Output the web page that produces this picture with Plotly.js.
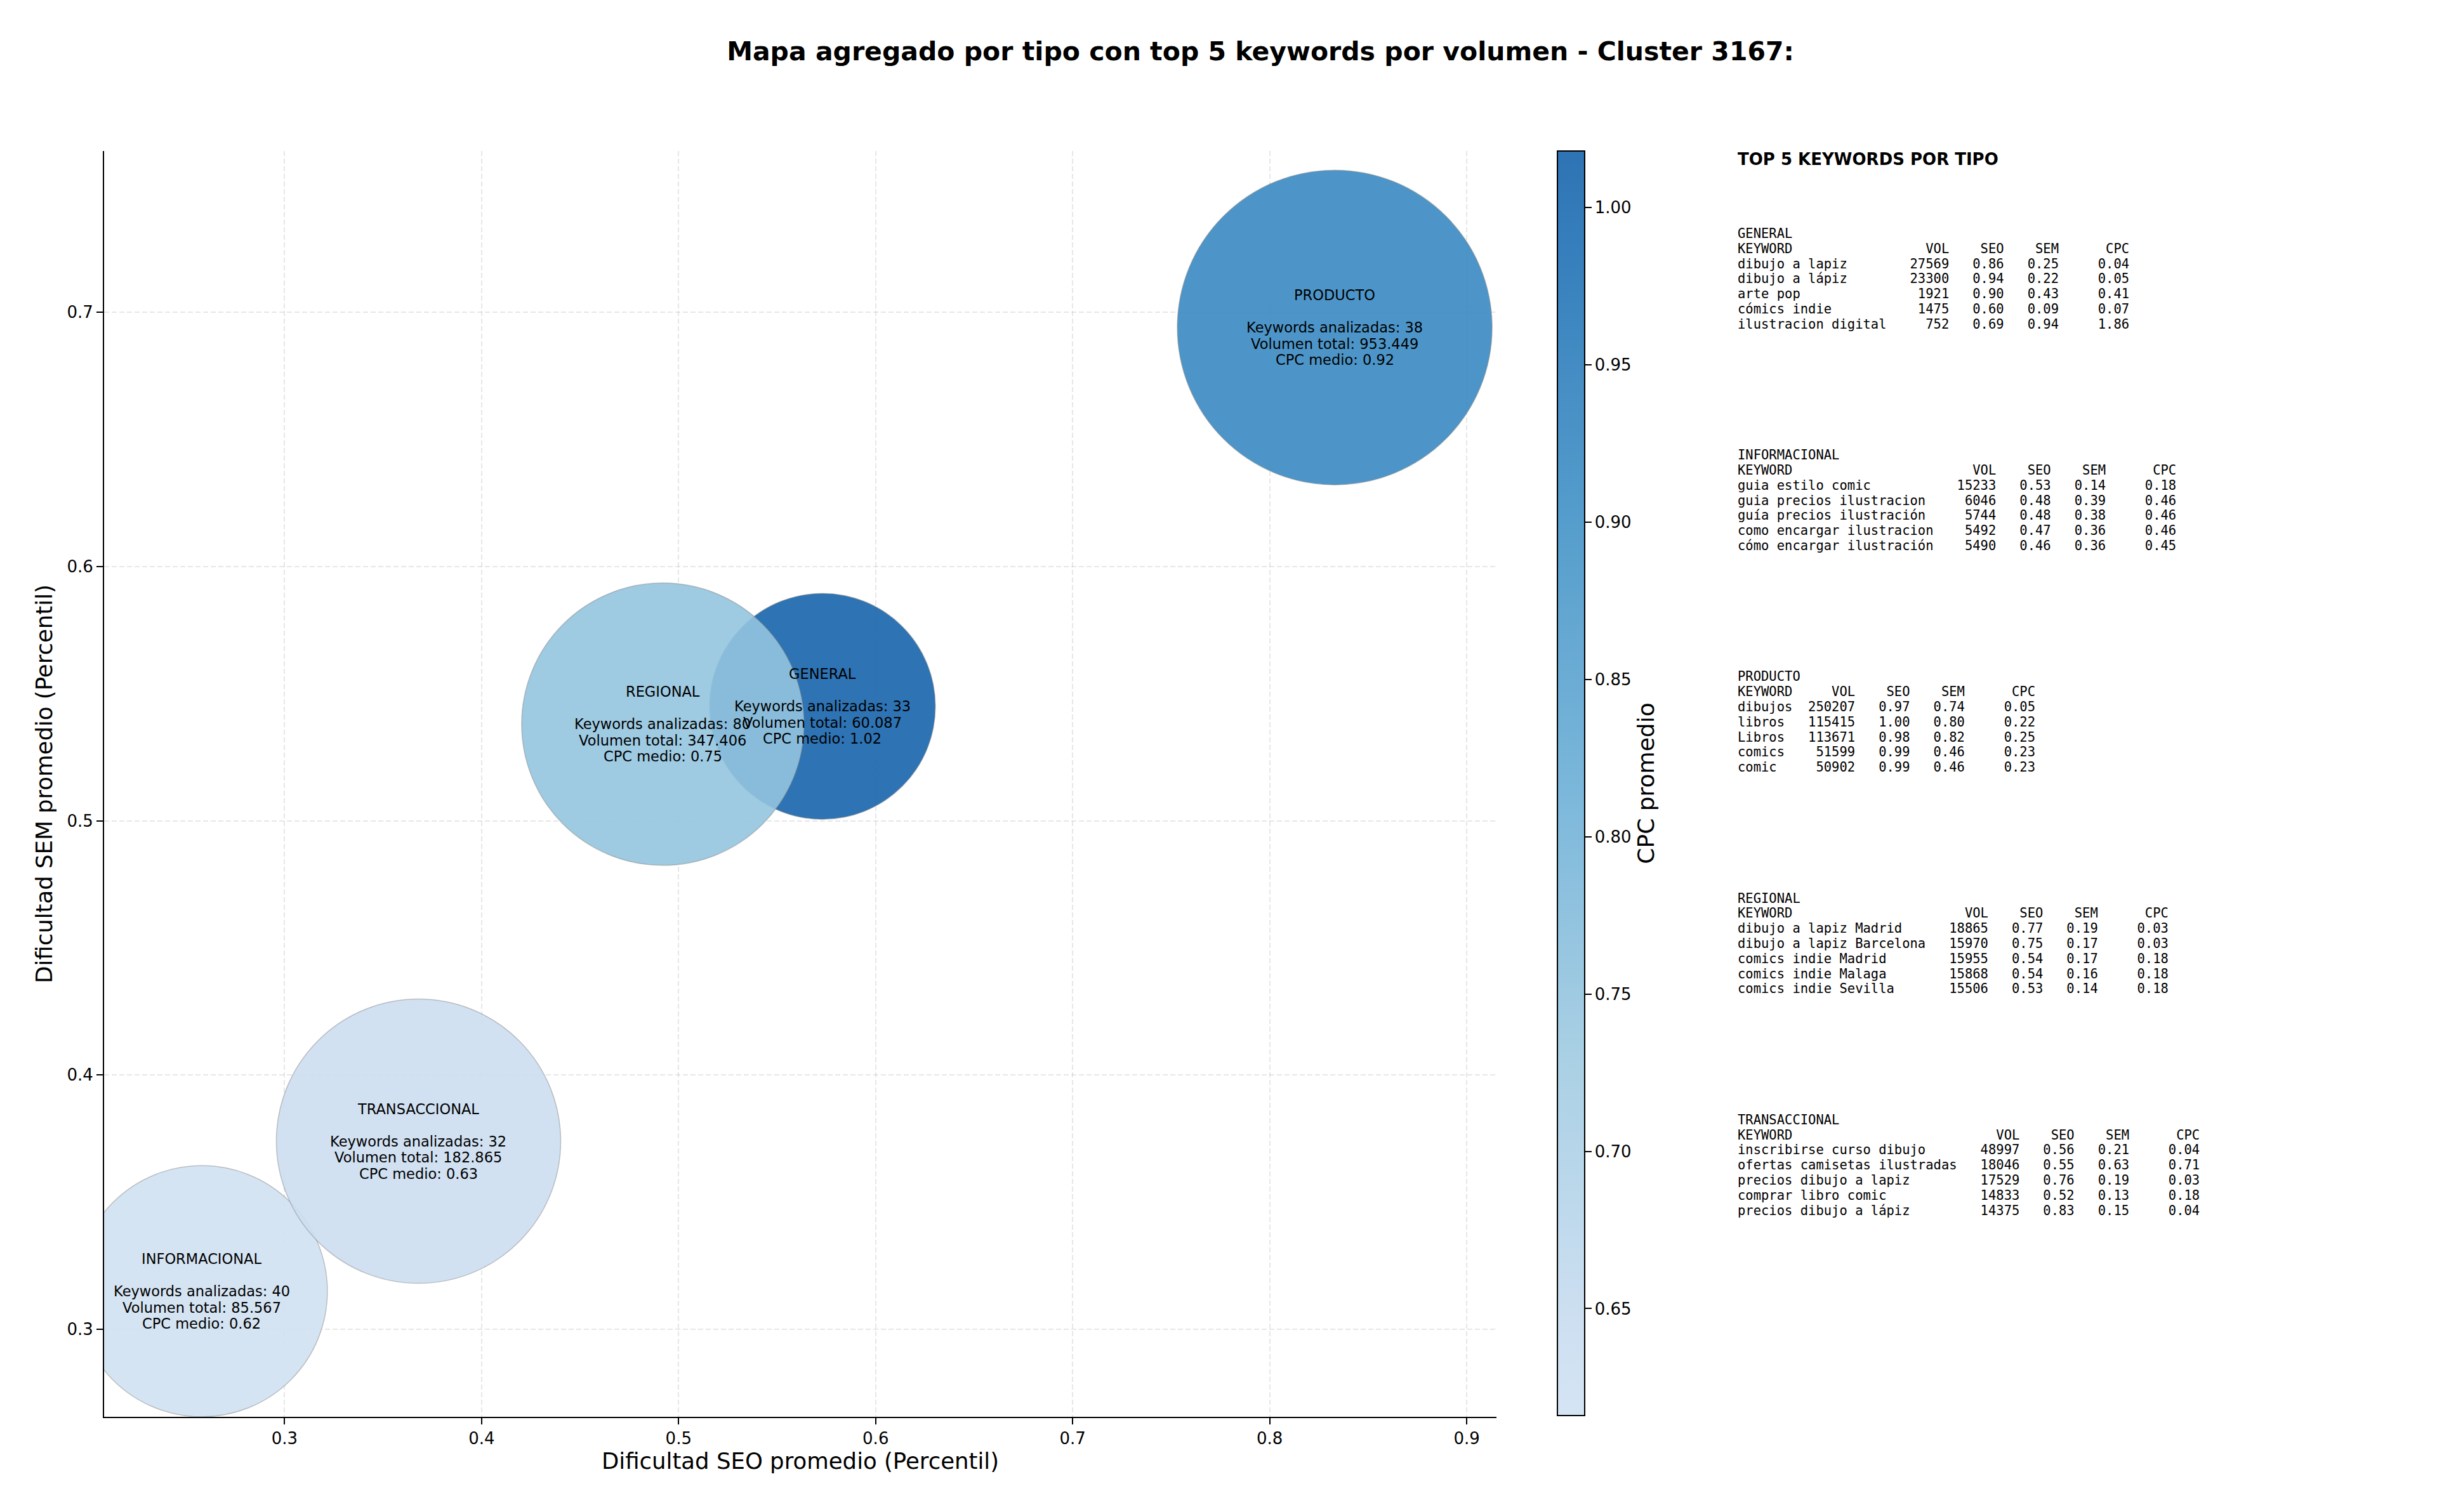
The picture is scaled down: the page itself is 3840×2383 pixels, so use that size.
<!DOCTYPE html>
<html><head><meta charset="utf-8">
<script src="https://cdn.plot.ly/plotly-3.0.1.min.js"></script>
<style>html,body{margin:0;padding:0;background:#fff}#chart{width:3840px;height:2383px}</style>
</head><body><div id="chart"></div>
<script>
// ---------- data ----------
const tipos = ['GENERAL', 'INFORMACIONAL', 'PRODUCTO', 'REGIONAL', 'TRANSACCIONAL'];
const seoPromedio = [0.573, 0.258, 0.833, 0.492, 0.368];
const semPromedio = [0.545, 0.315, 0.694, 0.538, 0.374];
const cpcPromedio = [1.018, 0.616, 0.92, 0.75, 0.63];
const keywordsAnalizadas = [33, 40, 38, 80, 32];
const volumenTotal = [60087, 85567, 953449, 347406, 182865];
const pesoBurbuja = [0.515, 0.637, 1.0, 0.805, 0.816];

const topGeneral = [
  ['dibujo a lapiz', 27569, 0.86, 0.25, 0.04],
  ['dibujo a lápiz', 23300, 0.94, 0.22, 0.05],
  ['arte pop', 1921, 0.90, 0.43, 0.41],
  ['cómics indie', 1475, 0.60, 0.09, 0.07],
  ['ilustracion digital', 752, 0.69, 0.94, 1.86]
];
const topInformacional = [
  ['guia estilo comic', 15233, 0.53, 0.14, 0.18],
  ['guia precios ilustracion', 6046, 0.48, 0.39, 0.46],
  ['guía precios ilustración', 5744, 0.48, 0.38, 0.46],
  ['como encargar ilustracion', 5492, 0.47, 0.36, 0.46],
  ['cómo encargar ilustración', 5490, 0.46, 0.36, 0.45]
];
const topProducto = [
  ['dibujos', 250207, 0.97, 0.74, 0.05],
  ['libros', 115415, 1.00, 0.80, 0.22],
  ['Libros', 113671, 0.98, 0.82, 0.25],
  ['comics', 51599, 0.99, 0.46, 0.23],
  ['comic', 50902, 0.99, 0.46, 0.23]
];
const topRegional = [
  ['dibujo a lapiz Madrid', 18865, 0.77, 0.19, 0.03],
  ['dibujo a lapiz Barcelona', 15970, 0.75, 0.17, 0.03],
  ['comics indie Madrid', 15955, 0.54, 0.17, 0.18],
  ['comics indie Malaga', 15868, 0.54, 0.16, 0.18],
  ['comics indie Sevilla', 15506, 0.53, 0.14, 0.18]
];
const topTransaccional = [
  ['inscribirse curso dibujo', 48997, 0.56, 0.21, 0.04],
  ['ofertas camisetas ilustradas', 18046, 0.55, 0.63, 0.71],
  ['precios dibujo a lapiz', 17529, 0.76, 0.19, 0.03],
  ['comprar libro comic', 14833, 0.52, 0.13, 0.18],
  ['precios dibujo a lápiz', 14375, 0.83, 0.15, 0.04]
];
const tablas = [topGeneral, topInformacional, topProducto, topRegional, topTransaccional];

// ---------- layout geometry (pixels) ----------
const W = 3840, H = 2383;
const PL = 164, PR = 2358, PT = 238, PB = 2233;
const pw = PR - PL, ph = PB - PT;
const px2x = p => (p - PL) / pw;
const px2y = p => (PB - p) / ph;

const FONT = 'DejaVu Sans';
const MONO = 'DejaVu Sans Mono';

// Blues (0.2 - 0.8) with alpha 0.9
const A = 0.9;
const colorscale = [
  [0.0, `rgba(208,225,242,${A})`],
  [0.0833, `rgba(198,219,239,${A})`],
  [0.2917, `rgba(158,202,225,${A})`],
  [0.5, `rgba(107,174,214,${A})`],
  [0.7083, `rgba(66,146,198,${A})`],
  [0.9167, `rgba(33,113,181,${A})`],
  [1.0, `rgba(23,100,171,${A})`]
];

const cmin = Math.min(...cpcPromedio), cmax = Math.max(...cpcPromedio);
const maxD = 496;

const trace = {
  type: 'scatter', mode: 'markers',
  x: seoPromedio, y: semPromedio,
  text: tipos, hoverinfo: 'text',
  cliponaxis: true,
  marker: {
    size: pesoBurbuja, sizemode: 'area', sizeref: 2 / (maxD * maxD),
    opacity: 1,
    color: cpcPromedio, colorscale: colorscale, cmin: cmin, cmax: cmax,
    line: {color: 'rgba(128,128,128,0.45)', width: 1.5},
    showscale: true,
    colorbar: {
      x: px2x(2454), xanchor: 'left', xpad: 0, ypad: 0,
      y: 1, yanchor: 'top', len: (2231 - PT) / ph, lenmode: 'fraction',
      thickness: 43, thicknessmode: 'pixels',
      outlinewidth: 2, outlinecolor: 'black',
      ticks: 'outside', ticklen: 10, tickwidth: 2, tickcolor: 'black',
      tick0: 0.65, dtick: 0.05, tickformat: '.2f',
      tickfont: {family: FONT, size: 26, color: 'black'},
      title: {text: 'CPC promedio', side: 'right', font: {family: FONT, size: 36, color: 'black'}}
    }
  },
  showlegend: false
};

const fmtVol = v => String(v).replace(/\B(?=(\d{3})+(?!\d))/g, '.');

const annotations = [];
// bubble labels
tipos.forEach((t, i) => {
  const lines = [t, '', 'Keywords analizadas: ' + keywordsAnalizadas[i],
    'Volumen total: ' + fmtVol(volumenTotal[i]), 'CPC medio: ' + cpcPromedio[i].toFixed(2)];
  lines.forEach((ln, j) => {
    if (!ln) return;
    annotations.push({
      xref: 'x', yref: 'y', x: seoPromedio[i], y: semPromedio[i],
      yshift: -(j - 2) * 25.5, text: ln, showarrow: false,
      xanchor: 'center', yanchor: 'middle',
      font: {family: FONT, size: 22.5, color: 'black'}
    });
  });
});

// right-side tables
const nb = s => s.replace(/ /g, '\u00a0');
annotations.push({
  xref: 'paper', yref: 'paper', x: px2x(2736), y: px2y(251),
  xanchor: 'left', yanchor: 'middle', showarrow: false,
  text: '<b>TOP 5 KEYWORDS POR TIPO</b>',
  font: {family: FONT, size: 26, color: 'black'}
});
tablas.forEach((rows, b) => {
  const w = Math.max(7, ...rows.map(r => r[0].length)) + 1;
  const lines = [tipos[b],
    'KEYWORD'.padEnd(w) + 'VOL'.padStart(7) + 'SEO'.padStart(7) + 'SEM'.padStart(7) + 'CPC'.padStart(9)];
  rows.forEach(r => {
    lines.push(r[0].padEnd(w) + String(r[1]).padStart(7) + r[2].toFixed(2).padStart(7) +
      r[3].toFixed(2).padStart(7) + r[4].toFixed(2).padStart(9));
  });
  const y0 = 368 + b * 349.2;
  lines.forEach((ln, j) => {
    annotations.push({
      xref: 'paper', yref: 'paper', x: px2x(2736), y: px2y(y0 + j * 23.8),
      xanchor: 'left', yanchor: 'middle', showarrow: false,
      text: nb(ln), font: {family: MONO, size: 20.5, color: 'black'}
    });
  });
});

const axisCommon = {
  showgrid: true, gridcolor: 'rgba(176,176,176,0.3)', gridwidth: 2, griddash: '8px,4px',
  showline: true, linecolor: 'black', linewidth: 2, mirror: false,
  ticks: 'outside', ticklen: 10, tickwidth: 2, tickcolor: 'black',
  tickfont: {family: FONT, size: 26, color: 'black'},
  zeroline: false, automargin: false, tickformat: '.1f', dtick: 0.1, tick0: 0
};

const layout = {
  width: W, height: H,
  paper_bgcolor: 'white', plot_bgcolor: 'white',
  margin: {l: PL, r: W - PR, t: PT, b: H - PB, pad: 0},
  font: {family: FONT, color: 'black'},
  title: {
    text: '<b>Mapa agregado por tipo con top 5 keywords por volumen - Cluster 3167:</b>',
    font: {family: FONT, size: 41, color: 'black'},
    xref: 'container', yref: 'container', x: 1986 / W, y: 1 - 81 / H,
    xanchor: 'center', yanchor: 'middle'
  },
  xaxis: Object.assign({}, axisCommon, {
    range: [0.2084, 0.9151],
    title: {text: 'Dificultad SEO promedio (Percentil)', font: {family: FONT, size: 35.5, color: 'black'}, standoff: 8}
  }),
  yaxis: Object.assign({}, axisCommon, {
    range: [0.2656, 0.7634],
    title: {text: 'Dificultad SEM promedio (Percentil)', font: {family: FONT, size: 35.5, color: 'black'}, standoff: 12}
  }),
  annotations: annotations
};

Plotly.newPlot('chart', [trace], layout, {staticPlot: true, displayModeBar: false});
</script>
</body></html>
